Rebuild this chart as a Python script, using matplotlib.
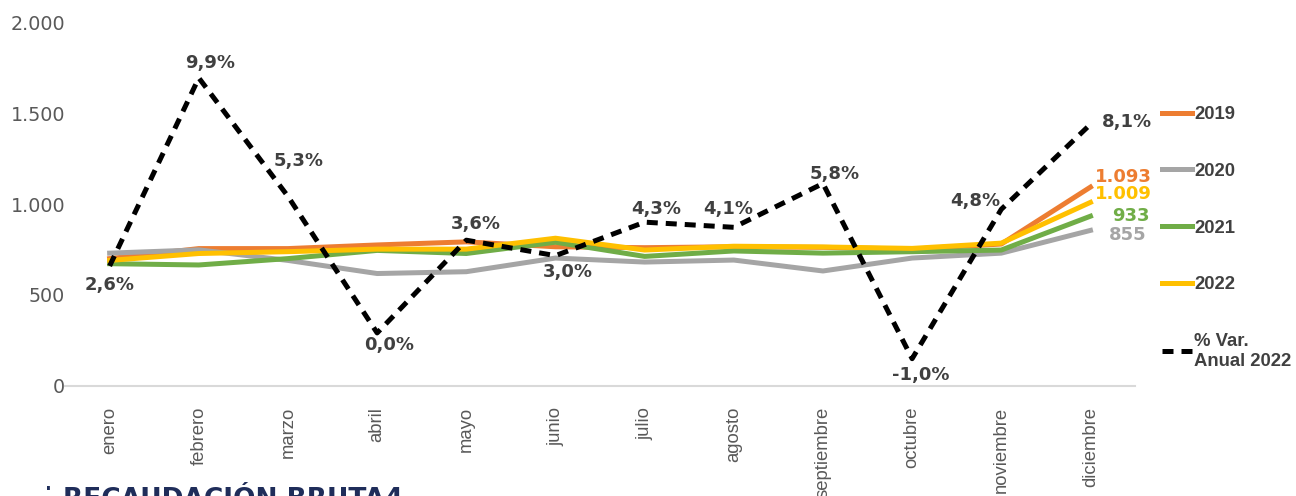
import matplotlib
matplotlib.use("Agg")
import matplotlib.pyplot as plt
from matplotlib.ticker import FuncFormatter

plt.rcParams['font.family'] = ['DejaVu Sans']

months = ["enero", "febrero", "marzo", "abril", "mayo", "junio", "julio",
          "agosto", "septiembre", "octubre", "noviembre", "diciembre"]

rec_2019 = [700, 755, 755, 775, 792, 765, 760, 765, 762, 752, 780, 1093]
rec_2020 = [730, 748, 690, 618, 628, 703, 681, 692, 632, 703, 730, 855]
rec_2021 = [672, 665, 700, 745, 728, 790, 712, 742, 730, 738, 747, 933]
rec_2022 = [690, 728, 738, 752, 752, 812, 747, 768, 764, 756, 785, 1009]
var_2022 = [2.6, 9.9, 5.3, 0.0, 3.6, 3.0, 4.3, 4.1, 5.8, -1.0, 4.8, 8.1]

series = [("2019", rec_2019, "#ED7D31"),
          ("2020", rec_2020, "#A5A5A5"),
          ("2021", rec_2021, "#70AD47"),
          ("2022", rec_2022, "#FFC000")]

# label offsets in points: % labels, then the December values
var_offsets = [(0, -14), (8, 11), (8, 25.5), (8.6, -8.6), (6.5, 11.5), (8.6, -12),
               (8, 9.5), (-4, 13), (8.6, 6.5), (6.5, -12), (-19, 6), (26, 1.5)]
end_offsets = [(23.4, 7.2), (27, -3.3), (29, 0), (23.4, 5.7)]

x = list(range(len(months)))

fig = plt.figure(figsize=(12.96, 4.96), dpi=100)
ax = fig.add_axes([0.0502, 0.2218, 0.8256, 0.7338])

for (name, vals, col), off in zip(series, end_offsets):
    ax.plot(x, vals, color=col, lw=3.6, label=name)
    ax.annotate(f"{vals[-1]:,}".replace(",", "."), xy=(x[-1], vals[-1]),
                xytext=off, textcoords='offset points', ha='center', va='center',
                color=col, fontsize=13, fontweight='bold')

ax.set_xlim(-0.5, 11.5)
ax.set_ylim(0, 2000)
ax.set_yticks([0, 500, 1000, 1500, 2000])
ax.yaxis.set_major_formatter(FuncFormatter(lambda v, p: f"{int(v):,}".replace(",", ".")))
ax.set_xticks(x)
ax.set_xticklabels(months, rotation=90, fontsize=13.3, color="#595959",
                   family='Liberation Sans')
ax.tick_params(axis='y', labelsize=13.8, labelcolor="#595959", length=0, pad=0)
ax.tick_params(axis='x', length=0, pad=15)
for s in ["top", "right", "left"]:
    ax.spines[s].set_visible(False)
ax.spines["bottom"].set_color("#D9D9D9")
ax.spines["bottom"].set_linewidth(1.5)

ax2 = ax.twinx()
ax2.plot(x, var_2022, color="black", lw=3.6, ls=(0, (2.2, 1.6)),
         label="% Var.\nAnual 2022")
ax2.set_ylim(-2.06, 12.07)
ax2.axis("off")
for xi, v, off in zip(x, var_2022, var_offsets):
    ax2.annotate(f"{v:.1f}%".replace(".", ","), xy=(xi, v), xytext=off,
                 textcoords='offset points', ha='center', va='center',
                 color="#404040", fontsize=13, fontweight='bold')

h1, l1 = ax.get_legend_handles_labels()
h2, l2 = ax2.get_legend_handles_labels()
leg = ax2.legend(h1 + h2, l1 + l2, loc='upper left',
                 bbox_to_anchor=(0.8895, 0.8045), bbox_transform=fig.transFigure,
                 frameon=False, prop={'family': 'Liberation Sans', 'size': 13.3,
                                      'weight': 'bold'},
                 labelspacing=2.15, handlelength=1.6, handletextpad=0.15,
                 borderpad=0)
for t in leg.get_texts():
    t.set_color("#404040")

fig.text(0.034, -0.005, "·", fontsize=20, color="#1F2D5A", va='baseline')
fig.text(0.0486, -0.022, "RECAUDACIÓN BRUTA4", fontsize=19, color="#1F2D5A",
         fontweight='bold', va='baseline')

fig.savefig("out.png", dpi=100)
